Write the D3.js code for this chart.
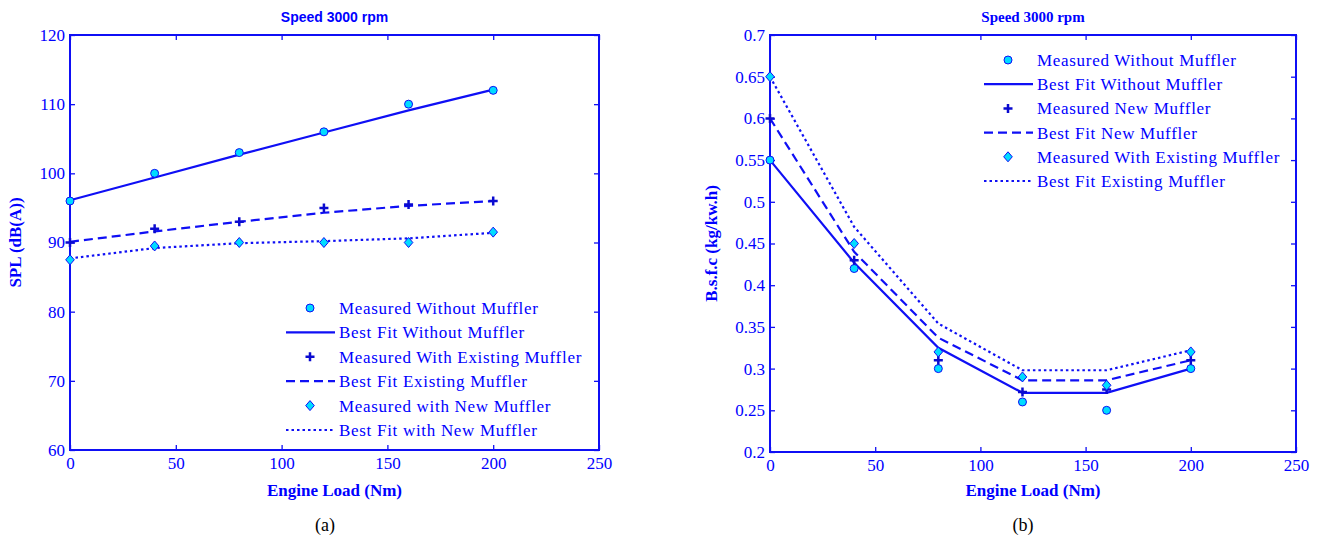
<!DOCTYPE html>
<html>
<head>
<meta charset="utf-8">
<script src="https://cdn.jsdelivr.net/npm/d3@7"></script>
<style>
  body { margin: 0; background: #fff; }
  text { font-family: "Liberation Serif", "Times New Roman", serif; fill: #0000ff; }
</style>
</head>
<body>
<div id="canvas"></div>
<script>
// engine load (Nm) for every measurement
var loads = [0, 40, 80, 120, 160, 200];
var xTicks = [0, 50, 100, 150, 200, 250];

// (a) SPL, dB(A)
var splWithout = [96, 100, 103, 106, 110, 112];
var splWithoutFit = [96.1, 99.4, 102.7, 105.9, 109.1, 112.1];
var splExisting = [90, 92, 93, 95, 95.5, 96];
var splExistingFit = [90.1, 91.6, 93.0, 94.3, 95.3, 96.0];
var splNew = [87.5, 89.5, 90, 90, 90, 91.5];
var splNewFit = [87.7, 89.2, 89.9, 90.2, 90.6, 91.4];
var splTicks = [60, 70, 80, 90, 100, 110, 120];
var splLegend = ['Measured Without Muffler', 'Best Fit Without Muffler',
  'Measured With Existing Muffler', 'Best Fit Existing Muffler',
  'Measured with New Muffler', 'Best Fit with New Muffler'];

// (b) B.s.f.c, kg/kw.h
var bsfcWithout = [0.55, 0.42, 0.30, 0.26, 0.25, 0.30];
var bsfcWithoutFit = [0.55, 0.427, 0.325, 0.271, 0.271, 0.30];
var bsfcNew = [0.60, 0.43, 0.31, 0.272, 0.275, 0.31];
var bsfcNewFit = [0.60, 0.44, 0.337, 0.286, 0.286, 0.31];
var bsfcExisting = [0.65, 0.45, 0.32, 0.29, 0.28, 0.32];
var bsfcExistingFit = [0.65, 0.47, 0.354, 0.298, 0.298, 0.322];
var bsfcTicks = [0.2, 0.25, 0.3, 0.35, 0.4, 0.45, 0.5, 0.55, 0.6, 0.65, 0.7];
var bsfcLegend = ['Measured Without Muffler', 'Best Fit Without Muffler',
  'Measured New Muffler', 'Best Fit New Muffler',
  'Measured With Existing Muffler', 'Best Fit Existing Muffler'];

var BLUE = '#0f0ff5';
var CYAN = '#00dcff';

var svg = d3.select('#canvas').append('svg')
  .attr('width', 1321)
  .attr('height', 542);

var drawMarker = function (g, kind, cx, cy) {
  if (kind === 'circle') {
    g.append('circle').attr('cx', cx).attr('cy', cy).attr('r', 4)
      .attr('fill', CYAN).attr('stroke', BLUE).attr('stroke-width', 1);
  } else if (kind === 'diamond') {
    g.append('path').attr('d', 'M0,-5L4.3,0L0,5L-4.3,0Z')
      .attr('transform', 'translate(' + cx + ',' + cy + ')')
      .attr('fill', CYAN).attr('stroke', BLUE).attr('stroke-width', 1);
  } else {
    g.append('path').attr('d', 'M-4.5,0H4.5M0,-4.5V4.5')
      .attr('transform', 'translate(' + cx + ',' + cy + ')')
      .attr('stroke', '#0a0ad0').attr('stroke-width', 2.5).attr('fill', 'none');
  }
};

var Panel = function (cfg) {
  var g = svg.append('g');
  var x = d3.scaleLinear().domain([0, 250]).range([cfg.left, cfg.right]);
  var y = d3.scaleLinear().domain(cfg.yDomain).range([cfg.bottom, cfg.top]);

  // axes with inward ticks on all four sides (matlab box)
  var styleAxis = function (a) {
    a.select('.domain').remove();
    a.selectAll('line').attr('stroke', BLUE).attr('stroke-width', 1.3);
    a.selectAll('text').attr('fill', '#0000ff').style('font-size', '17px')
      .attr('font-family', null);
  };
  g.append('g').attr('transform', 'translate(0,' + cfg.bottom + ')')
    .call(d3.axisBottom(x).tickValues(xTicks).tickSize(-5).tickPadding(7))
    .call(styleAxis);
  g.append('g').attr('transform', 'translate(0,' + cfg.top + ')')
    .call(d3.axisTop(x).tickValues(xTicks).tickSize(-5).tickFormat(''))
    .call(styleAxis);
  g.append('g').attr('transform', 'translate(' + cfg.left + ',0)')
    .call(d3.axisLeft(y).tickValues(cfg.yTicks).tickSize(-5).tickPadding(5)
      .tickFormat(cfg.yFormat))
    .call(styleAxis);
  g.append('g').attr('transform', 'translate(' + cfg.right + ',0)')
    .call(d3.axisRight(y).tickValues(cfg.yTicks).tickSize(-5).tickFormat(''))
    .call(styleAxis);

  g.append('rect')
    .attr('x', cfg.left).attr('y', cfg.top)
    .attr('width', cfg.right - cfg.left).attr('height', cfg.bottom - cfg.top)
    .attr('fill', 'none').attr('stroke', BLUE).attr('stroke-width', 2);

  // best fit lines
  var line = d3.line()
    .x(function (d, i) { return x(loads[i]); })
    .y(function (d) { return y(d); });
  cfg.series.forEach(function (s) {
    g.append('path').datum(s.fit)
      .attr('d', line)
      .attr('fill', 'none')
      .attr('stroke', BLUE)
      .attr('stroke-width', 2.2)
      .attr('stroke-dasharray', s.dash);
  });
  // measured points
  cfg.series.forEach(function (s) {
    s.values.forEach(function (v, i) {
      drawMarker(g, s.marker, x(loads[i]), y(v));
    });
  });

  // legend
  var lg = g.append('g').attr('transform', 'translate(' + cfg.legendX + ',' + cfg.legendY + ')');
  cfg.series.forEach(function (s, i) {
    var yy0 = i * 2 * cfg.legendStep;
    var yy1 = yy0 + cfg.legendStep;
    drawMarker(lg, s.marker, 24, yy0);
    lg.append('line').attr('x1', 0).attr('x2', 49).attr('y1', yy1).attr('y2', yy1)
      .attr('stroke', BLUE).attr('stroke-width', 2.2).attr('stroke-dasharray', s.dash);
    lg.append('text').attr('x', 53).attr('y', yy0).attr('dy', '0.35em')
      .style('font-size', '17px').style('letter-spacing', '0.7px').text(cfg.legend[i * 2]);
    lg.append('text').attr('x', 53).attr('y', yy1).attr('dy', '0.35em')
      .style('font-size', '17px').style('letter-spacing', '0.7px').text(cfg.legend[i * 2 + 1]);
  });

  // titles
  var cx = (cfg.left + cfg.right) / 2;
  g.append('text').attr('x', cx).attr('y', cfg.top - 13)
    .attr('text-anchor', 'middle')
    .style('font-family', cfg.titleFont).style('font-weight', 'bold').style('font-size', cfg.titleSize)
    .text('Speed 3000 rpm');
  g.append('text').attr('x', cx).attr('y', 496)
    .attr('text-anchor', 'middle')
    .style('font-weight', 'bold').style('font-size', '17px')
    .text('Engine Load (Nm)');
  g.append('text')
    .attr('transform', 'translate(' + cfg.ylabelX + ',' + ((cfg.top + cfg.bottom) / 2) + ') rotate(-90)')
    .attr('text-anchor', 'middle')
    .style('font-weight', 'bold').style('font-size', '17px')
    .text(cfg.ylabel);
  g.append('text').attr('x', cfg.capX).attr('y', 531)
    .attr('text-anchor', 'middle')
    .style('font-size', '18px').style('fill', '#000')
    .text(cfg.caption);
};

new Panel({
  left: 70, right: 599, top: 35, bottom: 450,
  yDomain: [60, 120], yTicks: splTicks, yFormat: d3.format('d'),
  series: [
    { values: splWithout, fit: splWithoutFit, marker: 'circle', dash: null },
    { values: splExisting, fit: splExistingFit, marker: 'plus', dash: '9,5' },
    { values: splNew, fit: splNewFit, marker: 'diamond', dash: '2.5,3' }
  ],
  legend: splLegend, legendX: 286, legendY: 308, legendStep: 24.4,
  ylabel: 'SPL (dB(A))', ylabelX: 21, titleFont: '"Liberation Sans", Arial, sans-serif',
  titleSize: '14px', caption: '(a)', capX: 325
});

new Panel({
  left: 770, right: 1296, top: 35, bottom: 452,
  yDomain: [0.2, 0.7], yTicks: bsfcTicks, yFormat: function (d) { return d3.format('')(+d.toFixed(2)); },
  series: [
    { values: bsfcWithout, fit: bsfcWithoutFit, marker: 'circle', dash: null },
    { values: bsfcNew, fit: bsfcNewFit, marker: 'plus', dash: '9,5' },
    { values: bsfcExisting, fit: bsfcExistingFit, marker: 'diamond', dash: '2.5,3' }
  ],
  legend: bsfcLegend, legendX: 984, legendY: 60, legendStep: 24.2,
  ylabel: 'B.s.f.c (kg/kw.h)', ylabelX: 717, titleFont: '"Liberation Serif", serif',
  titleSize: '15px', caption: '(b)', capX: 1023
});
</script>
</body>
</html>
